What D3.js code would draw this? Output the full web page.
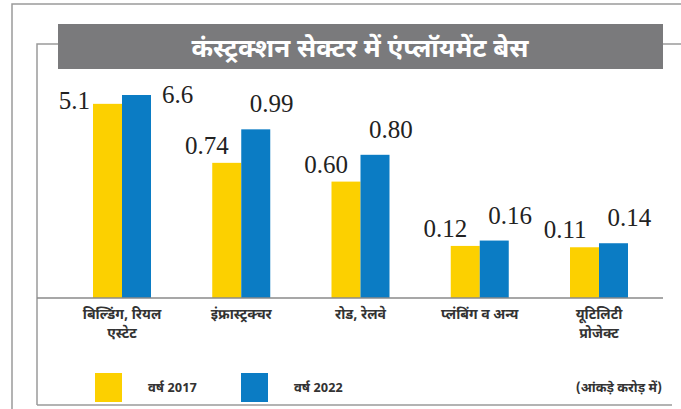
<!DOCTYPE html>
<html>
<head>
<meta charset="utf-8">
<script src="https://cdn.jsdelivr.net/npm/d3@7"></script>
<style>
  body { margin: 0; background: #fff; }
  svg { display: block; }
</style>
</head>
<body>
<script>
// data
var title = 'कंस्ट्रक्शन सेक्टर में एंप्लॉयमेंट बेस';
var categories = [
  ['बिल्डिंग, रियल', 'एस्टेट'],
  ['इंफ्रास्ट्रक्चर'],
  ['रोड, रेलवे'],
  ['प्लंबिंग व अन्य'],
  ['यूटिलिटी', 'प्रोजेक्ट']
];
var years = ['वर्ष 2017', 'वर्ष 2022'];
var values2017 = [5.1, 0.74, 0.60, 0.12, 0.11];
var values2022 = [6.6, 0.99, 0.80, 0.16, 0.14];
var labels2017 = ['5.1', '0.74', '0.60', '0.12', '0.11'];
var labels2022 = ['6.6', '0.99', '0.80', '0.16', '0.14'];
var unitNote = '(आंकड़े करोड़ में)';

var W = 681, H = 409;
var baseY = 298;
var yellow = '#fcd000', blue = '#0b7cc4';
var hindi = "'Noto Sans Devanagari', 'Noto Sans', sans-serif";
var serif = "'Liberation Serif', 'DejaVu Serif', serif";

var svg = d3.select('body').append('svg')
  .attr('width', W)
  .attr('height', H);

// frames
var frame = svg.append('g')
  .style('fill', 'none')
  .style('stroke', '#9a9a9a')
  .style('stroke-width', 1.5);
frame.append('path').attr('d', 'M12,409V4H681');
frame.append('path').attr('d', 'M37,405V44H60M662,44H681M37,405H672');

// title banner
svg.append('rect')
  .attr('x', 58).attr('y', 24)
  .attr('width', 605).attr('height', 45)
  .style('fill', '#7a7a7c');

svg.append('text')
  .attr('x', 360).attr('y', 57)
  .attr('text-anchor', 'middle')
  .style('font-family', hindi)
  .style('font-size', '26px')
  .style('font-weight', 'bold')
  .style('fill', '#fff')
  .text(title);

// scales: broken value axis, steep below 1 crore and compressed above
var x = d3.scalePoint()
  .domain(d3.range(categories.length))
  .range([122, 599]);

var x1 = d3.scaleBand()
  .domain([0, 1])
  .range([-29, 29]);

var y = d3.scaleLinear()
  .domain([0, 1, 6.6])
  .range([baseY - 36, baseY - 170, baseY - 203]);

var series = [values2017, values2022];
var colors = [yellow, blue];

series.forEach(function(vals, s) {
  svg.append('g').selectAll('rect')
    .data(vals)
    .enter().append('rect')
    .attr('x', function(d, i) { return x(i) + x1(s); })
    .attr('y', function(d) { return y(d); })
    .attr('width', x1.bandwidth())
    .attr('height', function(d) { return baseY - y(d); })
    .style('fill', colors[s]);
});

// value labels
function styleText(sel) {
  return sel
    .style('font-family', serif)
    .style('font-size', '25px')
    .style('fill', '#222');
}

styleText(svg.append('g').selectAll('text')
  .data(values2017)
  .enter().append('text')
  .attr('text-anchor', 'end')
  .attr('x', function(d, i) {
    var cx = x(i) + x1(0) + x1.bandwidth() / 2;
    return y(d) < 120 ? x(i) + x1(0) - 3 : cx + 2;
  })
  .attr('y', function(d) { return y(d) < 120 ? y(d) + 5 : y(d) - 9; })
  .text(function(d, i) { return labels2017[i]; }));

styleText(svg.append('g').selectAll('text')
  .data(values2022)
  .enter().append('text')
  .attr('text-anchor', 'start')
  .attr('x', function(d, i) {
    var cx = x(i) + x1(1) + x1.bandwidth() / 2;
    return y(d) < 120 ? x(i) + x1(1) + x1.bandwidth() + 11 : cx - 6;
  })
  .attr('y', function(d) { return y(d) < 120 ? y(d) + 8 : y(d) - 17; })
  .text(function(d, i) { return labels2022[i]; }));

// baseline
svg.append('line')
  .attr('x1', 37).attr('x2', 663)
  .attr('y1', baseY).attr('y2', baseY)
  .style('stroke', '#8a8a8a')
  .style('stroke-width', 1.5);

// category labels
var cat = svg.append('g').selectAll('text')
  .data(categories)
  .enter().append('text')
  .attr('text-anchor', 'middle')
  .attr('y', 319)
  .style('font-family', hindi)
  .style('font-size', '14px')
  .style('font-weight', 'bold')
  .style('fill', '#333');

cat.selectAll('tspan')
  .data(function(d, i) { return d.map(function(t) { return { t: t, i: i }; }); })
  .enter().append('tspan')
  .attr('x', function(d) { return x(d.i); })
  .attr('dy', function(d, j) { return j ? 19 : 0; })
  .text(function(d) { return d.t; });

// legend
var legend = svg.append('g').attr('transform', 'translate(95,373)');
years.forEach(function(yr, s) {
  var g = legend.append('g').attr('transform', 'translate(' + (s * 146) + ',0)');
  g.append('rect')
    .attr('width', 27).attr('height', 29)
    .style('fill', colors[s]);
  g.append('text')
    .attr('x', 53).attr('y', 19)
    .style('font-family', hindi)
    .style('font-size', '13px')
    .style('font-weight', 'bold')
    .style('fill', '#333')
    .text(yr);
});

svg.append('text')
  .attr('x', 662).attr('y', 392)
  .attr('text-anchor', 'end')
  .style('font-family', hindi)
  .style('font-size', '13px')
  .style('font-weight', 'bold')
  .style('fill', '#333')
  .text(unitNote);
</script>
</body>
</html>
